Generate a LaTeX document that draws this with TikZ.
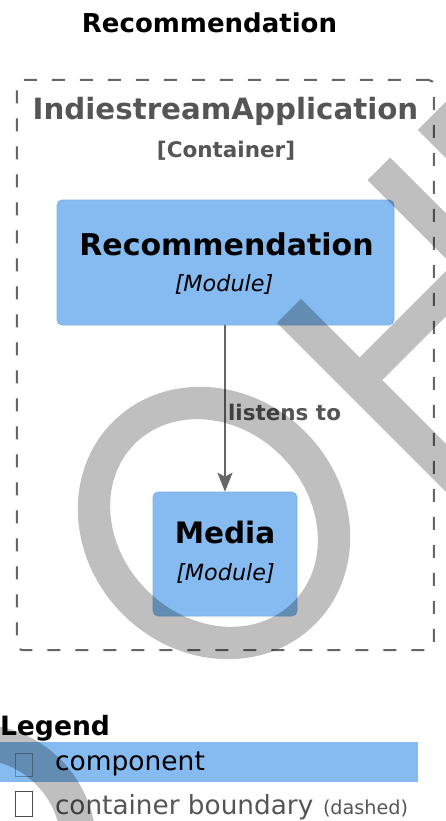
\documentclass[tikz,border=0pt]{standalone}
\usepackage{fontspec}
\setmainfont{DejaVu Sans}[ItalicFont={DejaVu Sans Oblique},BoldFont={DejaVu Sans Bold},BoldItalicFont={DejaVu Sans Bold Oblique}]
\usetikzlibrary{arrows.meta}
\definecolor{compblue}{HTML}{85BBF0}
\definecolor{compborder}{HTML}{7DB0E4}
\definecolor{bndgray}{HTML}{666666}
\definecolor{lblgray}{HTML}{555555}
\newcommand{\fsz}[1]{\fontsize{#1}{#1}\selectfont}
\tikzset{
  txt/.style={inner sep=0pt, outer sep=0pt},
  compbox/.style={fill=compblue, draw=compborder, line width=0.6pt, rounded corners=5pt, inner sep=0pt},
  boundary/.style={draw=bndgray, line width=2pt, dash pattern=on 13pt off 15pt, rounded corners=5pt, inner sep=0pt},
  relarrow/.style={draw=bndgray, line width=2pt, -{Stealth[length=19pt, width=15pt, inset=4pt]}},
  wmark/.style={fill=black, opacity=0.25}
}
\begin{document}
\begin{tikzpicture}[x=1pt, y=-1pt]
\useasboundingbox (0,0) rectangle (445,821);
% title
\node[txt, anchor=base] (title) at (209.5,33) {\fsz{26}\bfseries Recommendation};
% container boundary
\node[boundary, minimum width=417pt, minimum height=570pt] (cont) at (225.25,365) {};
\node[txt, anchor=base, text=lblgray] (cname) at (225.5,120) {\fsz{29.3}\bfseries IndiestreamApplication};
\node[txt, anchor=base, text=lblgray] (ctype) at (226,158) {\fsz{21.5}\bfseries [Container]};
% components
\node[compbox, minimum width=337pt, minimum height=125pt] (rec) at (225.5,262.5) {};
\node[txt, anchor=base] (recname) at (226.5,255) {\fsz{30}\bfseries Recommendation};
\node[txt, anchor=base] (rectype) at (224,291) {\fsz{22.3}\itshape [Module]};
\node[compbox, minimum width=144pt, minimum height=124pt] (media) at (225,554) {};
\node[txt, anchor=base] (medianame) at (225,543) {\fsz{29.5}\bfseries Media};
\node[txt, anchor=base] (mediatype) at (225.5,580) {\fsz{22.3}\itshape [Module]};
% relation
\draw[relarrow] (rec.south -| media.north) -- (media.north);
\node[txt, anchor=base west, text=lblgray] (rellabel) at (228,420) {\fsz{21.5}\bfseries listens to};
% legend
\node[txt, anchor=base west] (legtitle) at (0,735) {\fsz{26.6}\bfseries Legend};
\node[fill=compblue, inner sep=0pt, minimum width=418pt, minimum height=40pt, anchor=north west] (legbar) at (0,742) {};
\node[draw=compborder!75!black, line width=0.7pt, inner sep=0pt, minimum width=17pt, minimum height=23pt, anchor=north west] (legsq1) at (15,753) {};
\node[txt, anchor=base west] (legcomp) at (55,770) {\fsz{26.5}component};
\node[draw=black!70, line width=1pt, inner sep=0pt, minimum width=17pt, minimum height=25pt, anchor=north west] (legsq2) at (15,791) {};
\node[txt, anchor=base west, text=lblgray] (legcont) at (55,814) {\fsz{26.3}container boundary};
\node[txt, anchor=base west, text=lblgray] (legdash) at (323,814) {\fsz{19.2}(dashed)};
% watermark
\begin{scope}[shift={(214,523)}, rotate=45]
  \fill[wmark, even odd rule] (0,0) ellipse [x radius=129, y radius=143] (0,0) ellipse [x radius=95, y radius=112];
  \fill[wmark] (186,-97) -- (220,-97) -- (220,-14) -- (351,-14) -- (351,-134) -- (383,-134) -- (383,260) -- (351,260) -- (351,18) -- (220,18) -- (220,260) -- (186,260) -- cycle;
  \fill[wmark] (422,-134) -- (640,-134) -- (640,-94) -- (422,-94) -- cycle;
\end{scope}
\fill[wmark, even odd rule] (-25,845) circle [radius=121pt] (-25,845) circle [radius=86pt];
\end{tikzpicture}
\end{document}
